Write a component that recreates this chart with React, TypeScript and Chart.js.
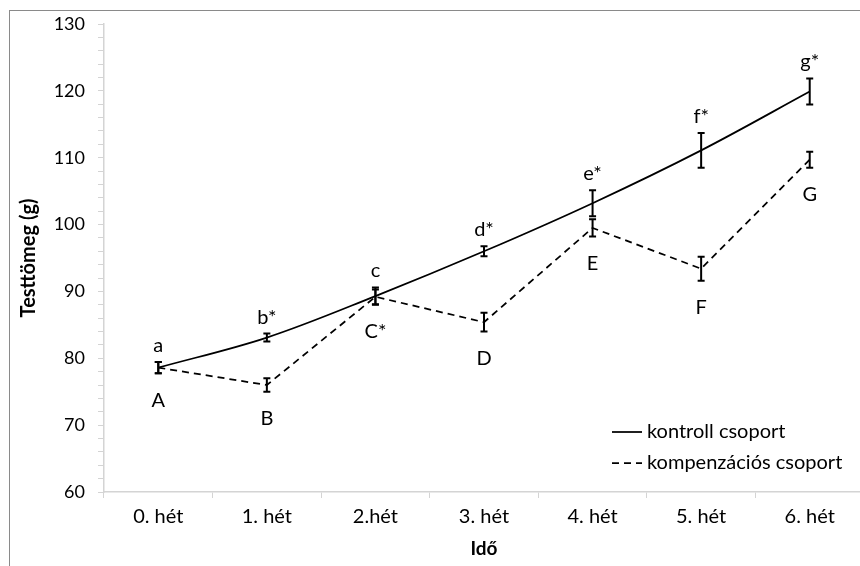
import React, { useEffect, useRef } from 'react';
import { Chart, registerables } from 'chart.js';

Chart.register(...registerables);

const categories = ['0. hét', '1. hét', '2.hét', '3. hét', '4. hét', '5. hét', '6. hét'];

const controlLabel = 'kontroll csoport';
const controlValues = [78.6, 83.1, 89.3, 96.0, 103.2, 111.1, 119.9];
const controlErrors = [0.85, 0.6, 1.3, 0.75, 1.95, 2.6, 1.95];
const controlMarks = ['a', 'b*', 'c', 'd*', 'e*', 'f*', 'g*'];

const compLabel = 'kompenzációs csoport';
const compValues = [78.6, 76.0, 89.2, 85.4, 99.5, 93.4, 109.7];
const compErrors = [0.85, 1.0, 1.1, 1.4, 1.3, 1.8, 1.2];
const compMarks = ['A', 'B', 'C*', 'D', 'E', 'F', 'G'];

const yMin = 60;
const yMax = 130;
const yMinorStep = 2;
const yMajorStep = 10;

const yTitle = 'Testtömeg (g)';
const xTitle = 'Idő';

const FONT = 'Lato';
const AXIS_GRAY = '#d4d4d4';

const errorPlugin = {
  id: 'errorBarsAndMarks',
  afterDatasetsDraw(chart: any) {
    const ctx = chart.ctx;
    const yScale = chart.scales.y;
    const series = [
      { values: controlValues, errors: controlErrors, marks: controlMarks, above: true },
      { values: compValues, errors: compErrors, marks: compMarks, above: false },
    ];
    series.forEach((s, di) => {
      const meta = chart.getDatasetMeta(di);
      meta.data.forEach((pt: any, i: number) => {
        const x = pt.x;
        const top = yScale.getPixelForValue(s.values[i] + s.errors[i]);
        const bot = yScale.getPixelForValue(s.values[i] - s.errors[i]);
        ctx.save();
        ctx.strokeStyle = '#000';
        ctx.lineWidth = 2;
        ctx.setLineDash([]);
        ctx.beginPath();
        ctx.moveTo(x, top);
        ctx.lineTo(x, bot);
        ctx.moveTo(x - 3.5, top);
        ctx.lineTo(x + 3.5, top);
        ctx.moveTo(x - 3.5, bot);
        ctx.lineTo(x + 3.5, bot);
        ctx.stroke();
        ctx.fillStyle = '#000';
        ctx.font = `20px ${FONT}`;
        ctx.textAlign = 'center';
        if (s.above) {
          ctx.textBaseline = 'alphabetic';
          ctx.fillText(s.marks[i], x, top - 10);
        } else {
          ctx.textBaseline = 'middle';
          ctx.fillText(s.marks[i], x, bot + 27);
        }
        ctx.restore();
      });
    });
  },
};

const legendPlugin = {
  id: 'innerLegend',
  afterDraw(chart: any) {
    const { ctx, chartArea } = chart;
    const x0 = chartArea.right - 252;
    const x1 = x0 + 30;
    const tx = x1 + 5;
    const rows = [chartArea.bottom - 60, chartArea.bottom - 29];
    chart.data.datasets.forEach((ds: any, i: number) => {
      ctx.save();
      ctx.strokeStyle = ds.borderColor;
      ctx.lineWidth = ds.borderWidth;
      ctx.setLineDash(ds.borderDash || []);
      ctx.beginPath();
      ctx.moveTo(x0, rows[i]);
      ctx.lineTo(x1, rows[i]);
      ctx.stroke();
      ctx.setLineDash([]);
      ctx.fillStyle = '#000';
      ctx.font = `20px ${FONT}`;
      ctx.textAlign = 'left';
      ctx.textBaseline = 'middle';
      ctx.fillText(ds.label, tx, rows[i]);
      ctx.restore();
    });
  },
};

export default function App() {
  const canvasRef = useRef<HTMLCanvasElement | null>(null);

  useEffect(() => {
    if (!canvasRef.current) return;
    const chart = new Chart(canvasRef.current, {
      type: 'line',
      data: {
        labels: categories,
        datasets: [
          {
            label: controlLabel,
            data: controlValues,
            borderColor: '#000',
            borderWidth: 1.75,
            tension: 0.35,
            pointRadius: 0,
            fill: false,
          },
          {
            label: compLabel,
            data: compValues,
            borderColor: '#000',
            borderWidth: 1.75,
            borderDash: [7, 5],
            tension: 0,
            pointRadius: 0,
            fill: false,
          },
        ],
      },
      options: {
        responsive: false,
        animation: false,
        devicePixelRatio: 1,
        layout: { padding: { left: 0, top: 13, right: 26, bottom: 9 } },
        plugins: {
          legend: { display: false },
          tooltip: { enabled: false },
        },
        scales: {
          x: {
            type: 'category',
            offset: true,
            grid: {
              offset: true,
              drawOnChartArea: false,
              drawTicks: true,
              tickLength: 6,
              color: AXIS_GRAY,
            },
            border: { display: true, color: AXIS_GRAY, width: 1.5 },
            ticks: {
              color: '#000',
              font: { family: FONT, size: 20 },
              padding: 7,
              maxRotation: 0,
              autoSkip: false,
            },
            title: {
              display: true,
              text: xTitle,
              color: '#000',
              font: { family: FONT, size: 19, weight: 'bold' },
              padding: { top: 4, bottom: 2 },
            },
            afterFit: (scale: any) => {
              scale.height = 70;
              scale.paddingLeft = 0;
              scale.paddingRight = 0;
              scale.paddingTop = 0;
              scale.paddingBottom = 0;
            },
          },
          y: {
            min: yMin,
            max: yMax,
            grid: {
              drawOnChartArea: false,
              drawTicks: true,
              tickLength: 6,
              color: AXIS_GRAY,
            },
            border: { display: true, color: AXIS_GRAY, width: 1.5 },
            ticks: {
              stepSize: yMinorStep,
              autoSkip: false,
              color: '#000',
              font: { family: FONT, size: 18 },
              padding: 13,
              callback: (v: any) => (Number(v) % yMajorStep === 0 ? String(v) : ''),
            },
            title: {
              display: true,
              text: yTitle,
              color: '#000',
              font: { family: FONT, size: 20, weight: 'bold' },
              padding: { top: 7, bottom: 4 },
            },
            afterFit: (scale: any) => {
              scale.width = 94;
              scale.paddingLeft = 0;
              scale.paddingRight = 0;
              scale.paddingTop = 0;
              scale.paddingBottom = 0;
            },
          },
        },
      },
      plugins: [errorPlugin, legendPlugin],
    } as any);
    return () => chart.destroy();
  }, []);

  return (
    <div
      style={{
        position: 'fixed',
        left: 0,
        top: 0,
        width: 860,
        height: 566,
        overflow: 'hidden',
        background: '#fff',
      }}
    >
      <div
        style={{
          position: 'absolute',
          left: 9,
          top: 10,
          width: 880,
          height: 560,
          border: '1px solid #8a8a8a',
          background: '#fff',
        }}
      >
        <canvas ref={canvasRef} width={880} height={560} style={{ display: 'block', width: 880, height: 560 }} />
      </div>
    </div>
  );
}
